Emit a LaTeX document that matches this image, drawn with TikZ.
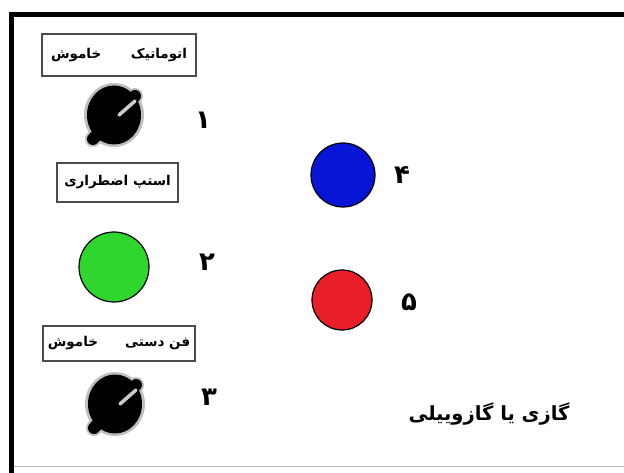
\documentclass[tikz,border=0pt]{standalone}
\usepackage{fontspec}
\newfontfamily\farsi[Script=Arabic]{DejaVu Sans}
\TeXXeTstate=1

\tikzset{
  namebox/.style={draw=black!70,line width=1.1pt,inner sep=0pt,
    font=\farsi\bfseries\fontsize{13.5}{15}\selectfont},
  lamp/.style={circle,draw=black,line width=1.2pt,inner sep=0pt},
  num/.style={font=\farsi\bfseries\fontsize{26}{28}\selectfont,inner sep=0pt},
}

\begin{document}
\begin{tikzpicture}[x=1pt,y=-1pt,line width=0.7pt]
\useasboundingbox (0,0) rectangle (624,473);
% ---------- panel frame ----------
\draw[line width=4.5pt] (11.5,473) -- (11.5,14.5) -- (624,14.5);
\draw[black!25,line width=1pt] (14,466) -- (624,466);
% ---------- name plates ----------
\node (plate1) [namebox,minimum width=154pt,minimum height=42pt] at (119,55)
  {\beginR اتوماتیک\hspace{2.2em}خاموش\endR};
\node (plate2) [namebox,minimum width=121pt,minimum height=39pt] at (117.5,182.5)
  {\beginR استپ اضطراری\endR};
\node (plate3) [namebox,minimum width=152pt,minimum height=35pt] at (119,343.5)
  {\beginR فن دستی\hspace{2em}خاموش\endR};
% ---------- rotary switches ----------
\foreach \X/\Y in {114/115,115/404}{
  \begin{scope}[shift={(\X,\Y)}]
    \fill[black!25] (0,0) ellipse (30 and 32);
    \draw[black!25,line width=16pt,line cap=round] (-21,24) -- (21,-19);
    \fill (0,0) ellipse (27 and 29.5);
    \draw[line width=12pt,line cap=round] (-21,24) -- (21,-19);
    \draw[black!20,line width=3.5pt,line cap=round] (5,0) -- (21,-14);
  \end{scope}
}
% ---------- lamps ----------
\node (green) [lamp,fill={rgb,255:red,46;green,214;blue,46},minimum size=70pt] at (114,267) {};
\node (blue) [lamp,fill={rgb,255:red,8;green,20;blue,214},minimum size=64pt] at (343,175) {};
\node (red) [lamp,fill={rgb,255:red,232;green,30;blue,40},minimum size=60pt] at (342,300) {};
% ---------- numbers ----------
\foreach \n/\X/\Y/\lab in {one/203/120/{۱},two/207/262/{۲},three/209/397/{۳},four/402/175/{۴},five/409/302/{۵}}{
  \node (\n) [num] at (\X,\Y) {\lab};
}
% ---------- title ----------
\node (title) [font=\farsi\bfseries\fontsize{19.5}{22}\selectfont] at (489,414)
  {\beginR گازی یا گازوییلی\endR};
\end{tikzpicture}
\end{document}
